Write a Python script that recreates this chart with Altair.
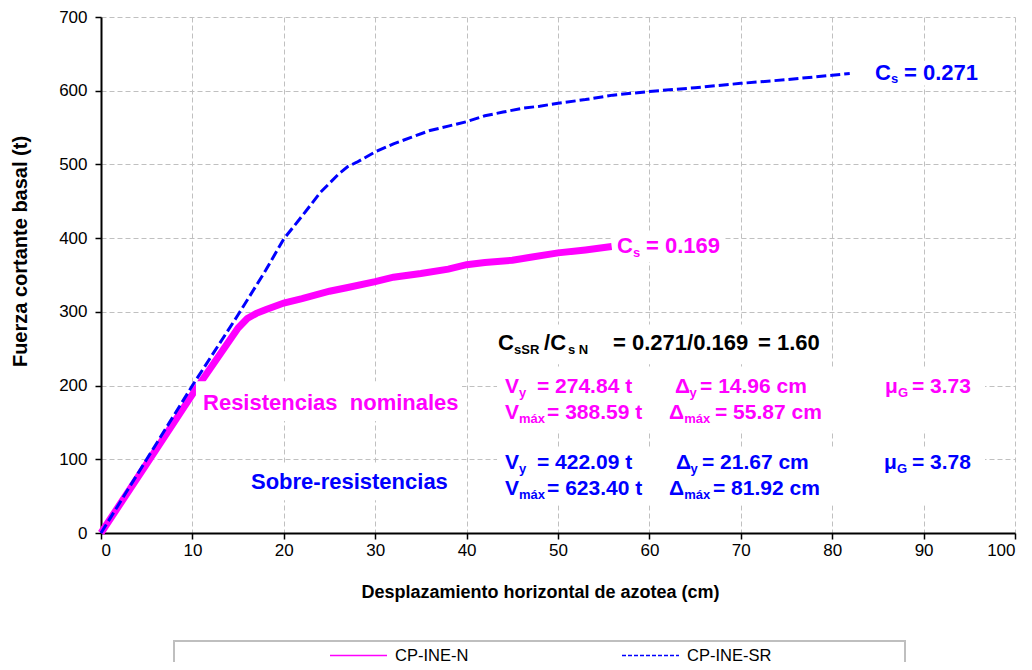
import altair as alt
import pandas as pd

# ---------------- data ----------------
series_names = ["CP-INE-N", "CP-INE-SR"]
line_colors = ["#FF00FF", "#0000FF"]

disp_n = [0, 5, 10, 15, 16, 17, 18, 20, 22, 25, 27, 30, 32, 35, 38, 40, 42, 45, 47, 50, 53, 55.87]
force_n = [0, 94, 188, 278, 291, 298, 303, 312, 318, 328, 333, 341, 347, 352, 358, 364, 367, 370, 374, 380, 384, 388.59]

disp_sr = [0, 5, 10, 15, 18, 20, 22, 24, 26, 27, 28, 30, 32, 34, 36, 38, 40, 42, 44, 46, 48, 50, 53, 56, 60, 65, 70, 75, 80, 81.92]
force_sr = [0, 100, 200, 296, 356, 399, 430, 462, 487, 497, 503, 517, 528, 537, 546, 552, 558, 566, 571, 576, 579, 583, 588, 594, 599, 604, 610, 615, 621, 623.4]

x_ticks = [0, 10, 20, 30, 40, 50, 60, 70, 80, 90, 100]
y_ticks = [0, 100, 200, 300, 400, 500, 600, 700]

MAG = "#FF00FF"
BLU = "#0000FF"
BLK = "#000000"

# annotation pieces: (x in cm, y in t, text, colour, font size)
ann_x = [84.68, 86.43, 87.85,
         56.45, 58.21, 59.63,
         11.16, 16.41,
         43.44, 45.19, 48.47, 51.09, 56.02, 71.88,
         44.20, 45.73, 47.70, 62.80, 64.40, 65.54, 85.78, 87.20, 88.73,
         44.20, 45.73, 48.80, 62.14, 63.80, 67.18,
         44.20, 45.73, 47.70, 62.91, 64.50, 65.75, 85.67, 87.09, 88.73,
         44.20, 45.73, 48.80, 62.14, 63.80, 66.96]
ann_y = [615.2, 609.8, 615.2,
         379.6, 374.2, 379.6,
         166.9, 59.2,
         247.7, 242.3, 247.7, 242.3, 247.7, 247.7,
         189.8, 184.4, 189.8, 189.8, 184.4, 189.8, 189.8, 184.4, 189.8,
         154.8, 149.4, 154.8, 154.8, 149.4, 154.8,
         86.2, 80.8, 86.2, 86.2, 80.8, 86.2, 86.2, 80.8, 86.2,
         51.2, 45.8, 51.2, 51.2, 45.8, 51.2]
ann_text = ["C", "s", "= 0.271",
            "C", "s", "= 0.169",
            "Resistencias\u00a0 nominales", "Sobre-resistencias",
            "C", "sSR", "/C", "s N", "= 0.271/0.169", "= 1.60",
            "V", "y", "= 274.84 t", "\u0394", "y", "= 14.96 cm", "\u03bc", "G", "= 3.73",
            "V", "m\u00e1x", "= 388.59 t", "\u0394", "m\u00e1x", "= 55.87 cm",
            "V", "y", "= 422.09 t", "\u0394", "y", "= 21.67 cm", "\u03bc", "G", "= 3.78",
            "V", "m\u00e1x", "= 623.40 t", "\u0394", "m\u00e1x", "= 81.92 cm"]
ann_color = [BLU] * 3 + [MAG] * 3 + [MAG, BLU] + [BLK] * 6 + [MAG] * 9 + [MAG] * 6 + [BLU] * 9 + [BLU] * 6
ann_size = [22, 13, 22,
            22, 13, 22,
            22, 22,
            22, 13, 22, 13, 22, 22,
            21, 13, 21, 21, 13, 21, 21, 13, 21,
            21, 13, 21, 21, 13, 21,
            21, 13, 21, 21, 13, 21, 21, 13, 21,
            21, 13, 21, 21, 13, 21]

# white label backgrounds (cm / t)
box_x1 = [10.39, 15.75, 42.56, 43.33, 43.33, 55.91, 84.14]
box_x2 = [39.50, 38.40, 79.98, 96.72, 96.72, 68.27, 96.72]
box_y1 = [206.0, 94.2, 282.7, 225.0, 115.8, 407.9, 640.8]
box_y2 = [152.1, 44.4, 228.8, 138.6, 37.7, 367.5, 607.1]

# ---------------- tables ----------------
df_n = pd.DataFrame({"x": disp_n, "y": force_n})
df_sr = pd.DataFrame({"x": disp_sr, "y": force_sr})
df_leg = pd.DataFrame({"series": series_names, "x": [None, None], "y": [None, None]})
df_ann = pd.DataFrame({"x": ann_x, "y": ann_y, "text": ann_text, "color": ann_color, "size": ann_size})
df_box = pd.DataFrame({"x": box_x1, "x2": box_x2, "y": box_y1, "y2": box_y2})

FONT = "Liberation Sans"

x_enc = alt.X("x:Q",
              scale=alt.Scale(domain=[0, 100], nice=False, zero=False),
              axis=alt.Axis(values=x_ticks, title="Desplazamiento horizontal de azotea (cm)",
                            titleX=439, titleY=64, titleAlign="center", titleBaseline="alphabetic",
                            labelPadding=3, format="d"))
y_enc = alt.Y("y:Q",
              scale=alt.Scale(domain=[0, 700], nice=False, zero=False),
              axis=alt.Axis(values=y_ticks, title="Fuerza cortante basal (t)",
                            titleX=-81, titleY=234, titleAngle=270, titleAlign="center",
                            titleBaseline="middle", titleFontSize=20, labelPadding=8, format="d"))

line_n = alt.Chart(df_n).mark_line(color=MAG, strokeWidth=7).encode(x=x_enc, y=y_enc)
line_sr = alt.Chart(df_sr).mark_line(color=BLU, strokeWidth=3, strokeDash=[10, 4]).encode(x=x_enc, y=y_enc)

leg = alt.Legend(title=None, orient="none", legendX=228, legendY=609, direction="horizontal",
                 symbolType="stroke", symbolSize=3249, symbolStrokeWidth=1.5,
                 labelFontSize=16.5, labelFont=FONT, labelColor="black", columnPadding=150,
                 labelOffset=7, padding=0)

legend_layer = alt.Chart(df_leg).mark_line().encode(
    x=x_enc, y=y_enc,
    color=alt.Color("series:N", scale=alt.Scale(domain=series_names, range=line_colors), legend=leg),
    strokeDash=alt.StrokeDash("series:N", scale=alt.Scale(domain=series_names, range=[[1, 0], [4, 2]]), legend=leg),
)

boxes = alt.Chart(df_box).mark_rect(color="white").encode(
    x=x_enc, x2="x2:Q", y=y_enc, y2="y2:Q")

texts = alt.Chart(df_ann).mark_text(font=FONT, fontWeight="bold", align="left", baseline="alphabetic").encode(
    x=x_enc, y=y_enc, text="text:N",
    fill=alt.Fill("color:N", scale=None),
    size=alt.Size("size:Q", scale=None),
)

legend_box = alt.Chart(pd.DataFrame({"k": [0]})).mark_rect(
    fill="white", stroke="#bfbfbf", strokeWidth=2).encode(
    x=alt.value(73), x2=alt.value(804), y=alt.value(624), y2=alt.value(668))

chart = alt.layer(legend_box, line_n, line_sr, boxes, texts, legend_layer).properties(
    width=914, height=516,
    autosize=alt.AutoSizeParams(type="none"),
    padding={"left": 93, "top": 9, "right": 9, "bottom": 129},
).configure_view(stroke=None).configure_axis(
    labelFont=FONT, labelFontSize=17, labelColor="black",
    titleFont=FONT, titleFontSize=18, titleFontWeight="bold", titleColor="black",
    domainColor="black", domainWidth=2, tickColor="black", tickWidth=1.5, tickSize=6,
    gridColor="#c0c0c0", gridDash=[5, 3], gridWidth=1,
)

chart.save("out.html", embed_options={"renderer": "svg", "actions": False})
